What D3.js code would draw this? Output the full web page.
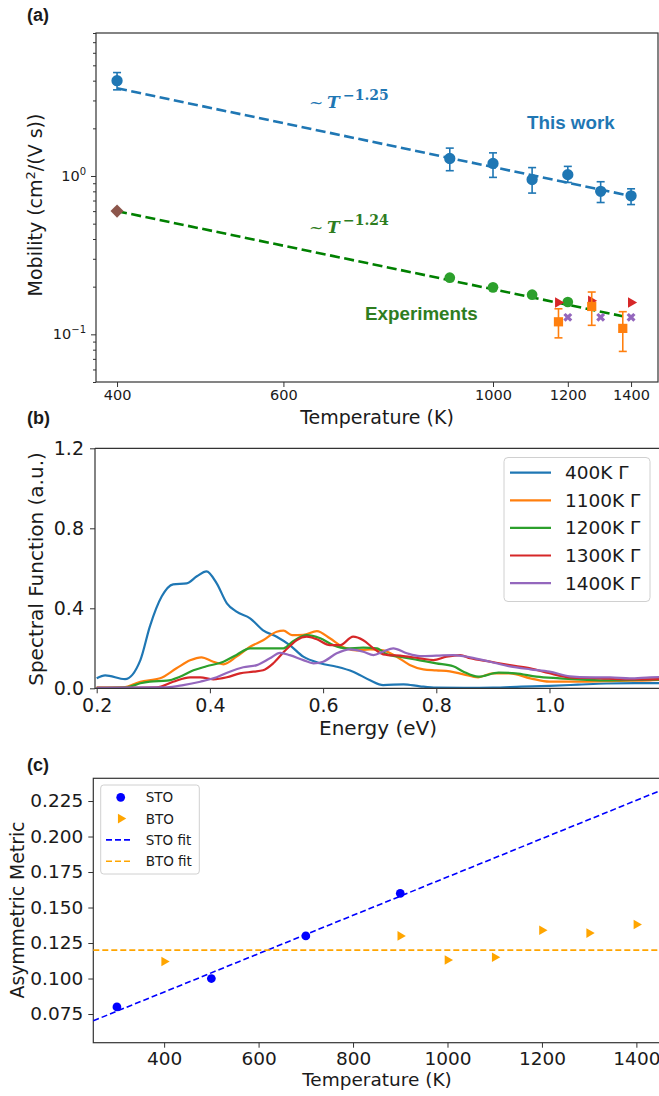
<!DOCTYPE html>
<html>
<head>
<meta charset="utf-8">
<script src="https://cdn.jsdelivr.net/npm/d3@7"></script>
<style>
body { margin: 0; background: #fff; }
svg { display: block; }
</style>
</head>
<body>
<script>
// ---- panel (a): mobility vs temperature ----
const workT  = [400, 900, 1000, 1100, 1200, 1300, 1400];
const workMu = [4.0, 1.29, 1.2, 0.95, 1.02, 0.8, 0.75];
const workLo = [3.5, 1.08, 0.98, 0.78, 0.91, 0.68, 0.66];
const workHi = [4.5, 1.5, 1.4, 1.13, 1.15, 0.92, 0.83];
const expGreenT  = [900, 1000, 1100, 1200];
const expGreenMu = [0.228, 0.198, 0.178, 0.16];
const expDiamondT  = [400];
const expDiamondMu = [0.6];
const expTriT  = [1172, 1270, 1400];
const expTriMu = [0.159, 0.163, 0.159];
const expSqT  = [1173, 1272, 1372];
const expSqMu = [0.12, 0.15, 0.109];
const expSqLo = [0.095, 0.114, 0.078];
const expSqHi = [0.145, 0.185, 0.139];
const expXT  = [1200, 1300, 1400];
const expXMu = [0.128, 0.128, 0.128];
const fitExponent = [-1.25, -1.24];
const fitAt400 = [3.58, 0.6];
const fitEndT = [1400, 1372];
const tempTicksA = [400, 600, 1000, 1200, 1400];

// ---- panel (b): spectral functions at Gamma ----
const specNames = ["400K Γ", "1100K Γ", "1200K Γ", "1300K Γ", "1400K Γ"];
const e400 = [0.20, 0.215, 0.25, 0.277, 0.294, 0.315, 0.335, 0.359, 0.377, 0.394, 0.412, 0.43, 0.447, 0.471, 0.494, 0.518, 0.541, 0.565, 0.595, 0.624, 0.653, 0.683, 0.706, 0.742, 0.771, 0.80, 0.85, 0.90, 0.95, 1.00, 1.05, 1.10, 1.15, 1.20];
const s400 = [0.05, 0.065, 0.046, 0.14, 0.31, 0.46, 0.52, 0.525, 0.56, 0.585, 0.525, 0.425, 0.383, 0.35, 0.29, 0.258, 0.216, 0.158, 0.125, 0.108, 0.083, 0.04, 0.016, 0.02, 0.01, 0.003, 0.002, 0.003, 0.008, 0.012, 0.018, 0.024, 0.026, 0.026];
const e1100 = [0.20, 0.247, 0.277, 0.312, 0.341, 0.365, 0.385, 0.406, 0.424, 0.447, 0.471, 0.494, 0.518, 0.53, 0.545, 0.565, 0.589, 0.612, 0.636, 0.659, 0.683, 0.706, 0.73, 0.753, 0.777, 0.80, 0.824, 0.848, 0.874, 0.90, 0.93, 0.966, 1.0, 1.06, 1.119, 1.178, 1.2];
const s1100 = [0.003, 0.005, 0.033, 0.05, 0.10, 0.14, 0.155, 0.133, 0.12, 0.158, 0.208, 0.24, 0.283, 0.288, 0.266, 0.267, 0.286, 0.25, 0.205, 0.19, 0.195, 0.19, 0.158, 0.117, 0.095, 0.09, 0.085, 0.07, 0.055, 0.075, 0.075, 0.05, 0.033, 0.033, 0.037, 0.04, 0.042];
const e1200 = [0.20, 0.253, 0.277, 0.294, 0.324, 0.347, 0.371, 0.394, 0.424, 0.447, 0.471, 0.50, 0.53, 0.547, 0.571, 0.595, 0.618, 0.641, 0.671, 0.695, 0.712, 0.742, 0.771, 0.80, 0.83, 0.848, 0.874, 0.91, 0.94, 0.977, 1.018, 1.09, 1.178, 1.2];
const s1200 = [0.002, 0.005, 0.025, 0.033, 0.038, 0.058, 0.09, 0.11, 0.133, 0.167, 0.2, 0.2, 0.2, 0.235, 0.266, 0.25, 0.216, 0.2, 0.203, 0.2, 0.171, 0.155, 0.14, 0.125, 0.11, 0.083, 0.058, 0.078, 0.075, 0.058, 0.05, 0.04, 0.043, 0.044];
const e1300 = [0.20, 0.306, 0.335, 0.365, 0.383, 0.406, 0.43, 0.453, 0.477, 0.494, 0.512, 0.53, 0.541, 0.553, 0.571, 0.589, 0.612, 0.63, 0.653, 0.671, 0.689, 0.706, 0.742, 0.771, 0.795, 0.818, 0.842, 0.86, 0.895, 0.93, 0.966, 1.0, 1.036, 1.09, 1.13, 1.178, 1.2];
const s1300 = [0.002, 0.005, 0.033, 0.055, 0.055, 0.045, 0.055, 0.075, 0.083, 0.09, 0.125, 0.18, 0.21, 0.24, 0.258, 0.245, 0.216, 0.216, 0.258, 0.24, 0.2, 0.17, 0.161, 0.15, 0.141, 0.158, 0.166, 0.15, 0.133, 0.116, 0.1, 0.075, 0.055, 0.05, 0.045, 0.045, 0.046];
const e1400 = [0.20, 0.324, 0.353, 0.383, 0.412, 0.435, 0.459, 0.483, 0.506, 0.524, 0.541, 0.565, 0.583, 0.60, 0.624, 0.647, 0.671, 0.689, 0.706, 0.724, 0.748, 0.771, 0.80, 0.83, 0.86, 0.895, 0.93, 0.966, 1.0, 1.036, 1.071, 1.107, 1.142, 1.178, 1.2];
const s1400 = [0.002, 0.005, 0.016, 0.033, 0.055, 0.083, 0.105, 0.116, 0.15, 0.177, 0.166, 0.141, 0.125, 0.133, 0.175, 0.195, 0.183, 0.166, 0.183, 0.2, 0.175, 0.161, 0.163, 0.166, 0.155, 0.133, 0.11, 0.095, 0.083, 0.06, 0.055, 0.055, 0.05, 0.055, 0.056];
const energyTicks = [0.2, 0.4, 0.6, 0.8, 1.0];
const specTicks = [0.0, 0.4, 0.8, 1.2];

// ---- panel (c): asymmetric metric ----
const stoT = [300, 500, 700, 900];
const stoVal = [0.08, 0.10, 0.13, 0.16];
const btoT = [400, 900, 1000, 1100, 1200, 1300, 1400];
const btoVal = [0.112, 0.130, 0.113, 0.115, 0.134, 0.132, 0.138];
const btoFit = 0.12;
const tempTicksC = [400, 600, 800, 1000, 1200, 1400];
const metricTicks = [0.075, 0.100, 0.125, 0.150, 0.175, 0.200, 0.225];

const font = "DejaVu Sans, sans-serif";
const ink = "#1a1a1a", spine = "#333";
const tab = ["#1f77b4", "#ff7f0e", "#2ca02c", "#d62728", "#9467bd", "#8c564b"];

const svg = d3.select("body").append("svg")
  .attr("width", 659).attr("height", 1096)
  .attr("font-family", font);

function styleAxis(g, size) {
  g.select(".domain").remove();
  g.selectAll(".tick line").attr("stroke", spine).attr("stroke-width", 1);
  g.selectAll(".tick text").attr("fill", ink).attr("font-size", size).attr("font-family", font);
}

function panelLabel(txt, x, y) {
  svg.append("text").attr("x", x).attr("y", y).text(txt)
    .attr("font-family", "Liberation Sans, Arial, sans-serif")
    .attr("font-weight", "bold").attr("font-size", 18).attr("fill", ink);
}

function errbars(g, xs, ys, los, his, x, y, color, cap) {
  xs.forEach(function(t, i) {
    g.append("line").attr("x1", x(t)).attr("x2", x(t))
      .attr("y1", y(los[i])).attr("y2", y(his[i]))
      .attr("stroke", color).attr("stroke-width", 1.6);
    [los[i], his[i]].forEach(function(v) {
      g.append("line").attr("x1", x(t) - cap).attr("x2", x(t) + cap)
        .attr("y1", y(v)).attr("y2", y(v))
        .attr("stroke", color).attr("stroke-width", 1.6);
    });
  });
}

function marks(g, xs, ys, x, y, type, size, color, rot) {
  g.selectAll(null).data(xs).enter().append("path")
    .attr("d", d3.symbol().type(type).size(size))
    .attr("transform", (t, i) => "translate(" + x(t) + "," + y(ys[i]) + ") rotate(" + (rot || 0) + ")")
    .attr("fill", color);
}

// ================= (a) =================
panelLabel("(a)", 27, 21);
const ax = d3.scaleLog().domain([380, 1495]).range([96, 658]);
const ay = d3.scaleLog().domain([0.05, 8]).range([382, 33]);
const gA = svg.append("g");

gA.append("g").attr("transform", "translate(0,382)")
  .call(d3.axisBottom(ax).tickValues(tempTicksA).tickFormat(d3.format("d")).tickSize(5).tickPadding(3))
  .call(styleAxis, 14.5);

// y axis: majors, minors, and 10^n labels
const yMinor = ay.ticks().filter(v => Math.abs(Math.log10(v) - Math.round(Math.log10(v))) > 1e-6);
gA.append("g").attr("transform", "translate(96,0)")
  .call(d3.axisLeft(ay).tickValues([0.1, 1]).tickFormat("").tickSize(5))
  .call(styleAxis, 14.5);
gA.append("g").attr("transform", "translate(96,0)")
  .call(d3.axisLeft(ay).tickValues(yMinor).tickFormat("").tickSize(3))
  .call(styleAxis, 14.5);
[0.1, 1].forEach(function(v) {
  const p = Math.round(Math.log10(v));
  const t = gA.append("text").attr("x", 86).attr("y", ay(v) + 5)
    .attr("text-anchor", "end").attr("font-size", 14.5).attr("fill", ink);
  t.append("tspan").text("10");
  t.append("tspan").text(p < 0 ? "\u2212" + (-p) : String(p)).attr("font-size", 10).attr("dy", -6);
});

gA.append("rect").attr("x", 96).attr("y", 33).attr("width", 562).attr("height", 349)
  .attr("fill", "none").attr("stroke", spine).attr("stroke-width", 1.2);

// fit lines
const fitColors = [tab[0], "green"];
fitExponent.forEach(function(ex, i) {
  const ts = [400, fitEndT[i]];
  gA.append("path")
    .attr("d", d3.line().x(t => ax(t)).y(t => ay(fitAt400[i] * Math.pow(t / 400, ex)))(ts))
    .attr("fill", "none").attr("stroke", fitColors[i]).attr("stroke-width", 2.6)
    .attr("stroke-dasharray", "10,4.5");
});

// this work
errbars(gA, workT, workMu, workLo, workHi, ax, ay, tab[0], 4);
marks(gA, workT, workMu, ax, ay, d3.symbolCircle, 100, tab[0]);

// experiments
marks(gA, expGreenT, expGreenMu, ax, ay, d3.symbolCircle, 90, tab[2]);
marks(gA, expDiamondT, expDiamondMu, ax, ay, d3.symbolSquare, 85, tab[5], 45);
marks(gA, expTriT, expTriMu, ax, ay, d3.symbolTriangle, 48, tab[3], 90);
errbars(gA, expSqT, expSqMu, expSqLo, expSqHi, ax, ay, tab[1], 4);
marks(gA, expSqT, expSqMu, ax, ay, d3.symbolSquare, 85, tab[1]);
marks(gA, expXT, expXMu, ax, ay, d3.symbolCross, 50, tab[4], 45);

// annotations
function powerLabel(y, color, expTxt) {
  const t = gA.append("text").attr("y", y).attr("fill", color).attr("font-family", "DejaVu Serif, serif");
  t.append("tspan").attr("x", 309).attr("font-size", 17).text("~");
  t.append("tspan").attr("x", 327).attr("font-size", 17).attr("font-weight", "bold").attr("font-style", "italic").text("T");
  t.append("tspan").attr("x", 343).attr("dy", -8.5).attr("font-size", 14).attr("font-weight", "bold").text(expTxt);
}
powerLabel(108, tab[0], "\u22121.25");
powerLabel(233, "#2e7d1f", "\u22121.24");
gA.append("text").attr("x", 527).attr("y", 129).text("This work")
  .attr("font-family", "Liberation Sans, Arial, sans-serif").attr("font-weight", "bold")
  .attr("font-size", 18.8).attr("fill", tab[0]);
gA.append("text").attr("x", 365).attr("y", 320).text("Experiments")
  .attr("font-family", "Liberation Sans, Arial, sans-serif").attr("font-weight", "bold")
  .attr("font-size", 18.8).attr("fill", "#2e7d1f");

gA.append("text").attr("x", 377).attr("y", 424).attr("text-anchor", "middle")
  .attr("font-size", 19).attr("fill", ink).text("Temperature (K)");
const yla = gA.append("text").attr("transform", "translate(42,205) rotate(-90)")
  .attr("text-anchor", "middle").attr("font-size", 19).attr("fill", ink);
yla.append("tspan").text("Mobility (cm");
yla.append("tspan").text("2").attr("font-size", 13).attr("dy", -7);
yla.append("tspan").text("/(V s))").attr("dy", 7);

// ================= (b) =================
panelLabel("(b)", 27, 424);
const bx = d3.scaleLinear().domain([0.197, 1.2]).range([95, 662.7]);
const by = d3.scaleLinear().domain([0, 1.2]).range([688.3, 448.3]);
const gB = svg.append("g");
svg.append("defs").append("clipPath").attr("id", "clipB")
  .append("rect").attr("x", 95).attr("y", 448.3).attr("width", 570).attr("height", 240);

gB.append("g").attr("transform", "translate(0,688.3)")
  .call(d3.axisBottom(bx).tickValues(energyTicks).tickFormat(d3.format(".1f")).tickSize(5).tickPadding(5))
  .call(styleAxis, 19);
gB.append("g").attr("transform", "translate(95,0)")
  .call(d3.axisLeft(by).tickValues(specTicks).tickFormat(d3.format(".1f")).tickSize(5).tickPadding(6))
  .call(styleAxis, 19);

const specE = [e400, e1100, e1200, e1300, e1400];
const specV = [s400, s1100, s1200, s1300, s1400];
const specLine = d3.line().x(d => bx(d[0])).y(d => by(d[1])).curve(d3.curveMonotoneX);
const curves = gB.append("g").attr("clip-path", "url(#clipB)");
specE.forEach(function(es, i) {
  curves.append("path").attr("d", specLine(es.map((e, j) => [e, specV[i][j]])))
    .attr("fill", "none").attr("stroke", tab[i]).attr("stroke-width", 2.2);
});

gB.append("path").attr("d", "M95,448.3H662.7M95,448.3V688.3H662.7")
  .attr("fill", "none").attr("stroke", spine).attr("stroke-width", 1.2);

// legend
const legB = gB.append("g");
legB.append("rect").attr("x", 504).attr("y", 457.5).attr("width", 146).attr("height", 144)
  .attr("rx", 4).attr("fill", "#fff").attr("fill-opacity", 0.8).attr("stroke", "#d0d0d0");
specNames.forEach(function(nm, i) {
  const yy = 472.7 + i * 27.6;
  legB.append("line").attr("x1", 510).attr("x2", 551).attr("y1", yy).attr("y2", yy)
    .attr("stroke", tab[i]).attr("stroke-width", 2.2);
  legB.append("text").attr("x", 565).attr("y", yy + 6.5).text(nm)
    .attr("font-size", 18.5).attr("fill", ink);
});

gB.append("text").attr("x", 378).attr("y", 735).attr("text-anchor", "middle")
  .attr("font-size", 20).attr("fill", ink).text("Energy (eV)");
gB.append("text").attr("transform", "translate(43,569) rotate(-90)")
  .attr("text-anchor", "middle").attr("font-size", 20).attr("fill", ink).text("Spectral Function (a.u.)");

// ================= (c) =================
panelLabel("(c)", 27, 771);
const cx = d3.scaleLinear().domain([250, 1450]).range([93.3, 660]);
const cy = d3.scaleLinear().domain([0.0548, 0.241]).range([1042.7, 778.3]);
const gC = svg.append("g");

gC.append("g").attr("transform", "translate(0,1042.7)")
  .call(d3.axisBottom(cx).tickValues(tempTicksC).tickFormat(d3.format("d")).tickSize(5).tickPadding(4))
  .call(styleAxis, 18.5);
gC.append("g").attr("transform", "translate(93.3,0)")
  .call(d3.axisLeft(cy).tickValues(metricTicks).tickFormat(d3.format(".3f")).tickSize(5).tickPadding(5))
  .call(styleAxis, 18.5);
gC.append("rect").attr("x", 93.3).attr("y", 778.3).attr("width", 566.7).attr("height", 264.4)
  .attr("fill", "none").attr("stroke", spine).attr("stroke-width", 1.2);

// least-squares line through STO points
const mT = d3.mean(stoT), mV = d3.mean(stoVal);
const slope = d3.sum(stoT, (t, i) => (t - mT) * (stoVal[i] - mV)) / d3.sum(stoT, t => (t - mT) * (t - mT));
const icpt = mV - slope * mT;
gC.append("path")
  .attr("d", d3.line().x(t => cx(t)).y(t => cy(icpt + slope * t))(cx.domain()))
  .attr("fill", "none").attr("stroke", "#0000ff").attr("stroke-width", 1.6).attr("stroke-dasharray", "6,3");
gC.append("path")
  .attr("d", d3.line().x(t => cx(t)).y(() => cy(btoFit))(cx.domain()))
  .attr("fill", "none").attr("stroke", "#ffa500").attr("stroke-width", 1.6).attr("stroke-dasharray", "6,3");

marks(gC, stoT, stoVal, cx, cy, d3.symbolCircle, 60, "#0000ff");
marks(gC, btoT, btoVal, cx, cy, d3.symbolTriangle, 40, "#ffa500", 90);

// legend
const legC = gC.append("g");
legC.append("rect").attr("x", 100.7).attr("y", 785).attr("width", 98.6).attr("height", 89)
  .attr("rx", 3).attr("fill", "#fff").attr("fill-opacity", 0.8).attr("stroke", "#d0d0d0");
const legCNames = ["STO", "BTO", "STO fit", "BTO fit"];
legCNames.forEach(function(nm, i) {
  const yy = 797.3 + i * 21.3;
  if (i === 0) legC.append("path").attr("d", d3.symbol().type(d3.symbolCircle).size(60)).attr("transform", "translate(120.7," + yy + ")").attr("fill", "#0000ff");
  if (i === 1) legC.append("path").attr("d", d3.symbol().type(d3.symbolTriangle).size(40)).attr("transform", "translate(120.7," + yy + ") rotate(90)").attr("fill", "#ffa500");
  if (i >= 2) legC.append("line").attr("x1", 106).attr("x2", 132).attr("y1", yy).attr("y2", yy)
    .attr("stroke", i === 2 ? "#0000ff" : "#ffa500").attr("stroke-width", 1.6).attr("stroke-dasharray", "6,3");
  legC.append("text").attr("x", 145.7).attr("y", yy + 5).text(nm).attr("font-size", 13.5).attr("fill", ink);
});

gC.append("text").attr("x", 377).attr("y", 1086).attr("text-anchor", "middle")
  .attr("font-size", 18.5).attr("fill", ink).text("Temperature (K)");
gC.append("text").attr("transform", "translate(24,910) rotate(-90)")
  .attr("text-anchor", "middle").attr("font-size", 18.8).attr("fill", ink).text("Asymmetric Metric");
</script>
</body>
</html>
